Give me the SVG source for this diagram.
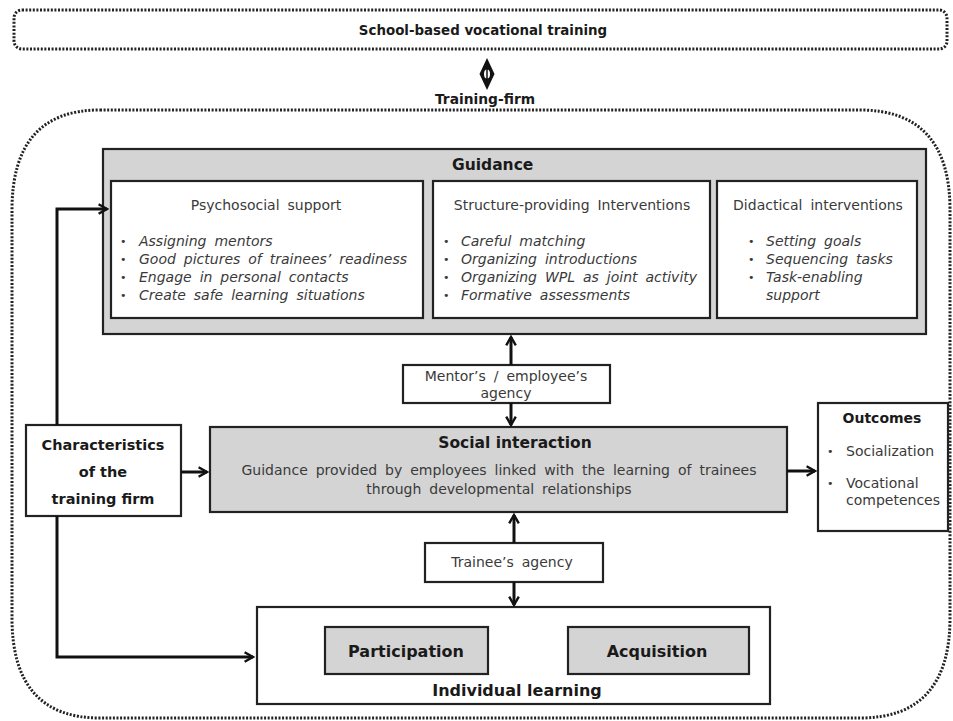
<svg xmlns="http://www.w3.org/2000/svg" width="953" height="721" viewBox="0 0 953 721">
<style>
.dot{fill:none;stroke:#222;stroke-width:3;stroke-dasharray:2 1.6}
.box{fill:#fff;stroke:#222;stroke-width:2.2}
.gray{fill:#d4d4d4;stroke:#222;stroke-width:2.2}
.h{font-family:"DejaVu Sans",Verdana,sans-serif;font-weight:bold;fill:#1a1a1a}
.t{font-family:"DejaVu Sans",Verdana,sans-serif;font-size:14px;word-spacing:3.5px;fill:#3a3a3a}
.i{font-family:"DejaVu Sans",Verdana,sans-serif;font-size:14px;word-spacing:3.5px;font-style:italic;fill:#3a3a3a}
.b{font-family:"DejaVu Sans",Verdana,sans-serif;font-size:11px;fill:#3a3a3a}
.ln{fill:none;stroke:#111;stroke-width:3}
</style>
<defs>
<marker id="ah" viewBox="0 0 10 10" refX="8" refY="5" markerWidth="4" markerHeight="4" orient="auto" markerUnits="strokeWidth">
<path d="M1,1 L8,5 L1,9" fill="none" stroke="#111" stroke-width="2"/>
</marker>
</defs>
<rect width="953" height="721" fill="#fff"/>

<g id="school">
<rect class="dot" x="14" y="10" width="933" height="39" rx="8"/>
<text class="h" x="483" y="35" font-size="13.4" text-anchor="middle">School-based vocational training</text>
</g>

<g id="link-diamond">
<path d="M487,58 L494.5,74 L487,90 L479.5,74 Z" fill="#111"/>
<ellipse cx="487" cy="74" rx="3" ry="4.5" fill="#fff"/>
<line x1="487" y1="68" x2="487" y2="80" stroke="#111" stroke-width="1.5"/>
</g>

<g id="training-firm">
<path class="dot" d="M100,110 H860 Q950,110 950,210 V618 Q950,718 860,718 H100 Q12,718 12,618 V210 Q12,110 100,110 Z"/>
<text class="h" x="485" y="104" font-size="13.8" text-anchor="middle">Training-firm</text>
</g>

<g id="guidance">
<rect class="gray" x="103" y="149" width="823" height="185"/>
<text class="h" x="452" y="170" font-size="15.5">Guidance</text>
</g>

<g id="psychosocial">
<rect class="box" x="111" y="181" width="312" height="137"/>
<text class="t" x="266" y="210" text-anchor="middle">Psychosocial support</text>
<text class="b" x="120" y="245">•</text><text class="i" x="139" y="246">Assigning mentors</text>
<text class="b" x="120" y="263">•</text><text class="i" x="139" y="264">Good pictures of trainees’ readiness</text>
<text class="b" x="120" y="281">•</text><text class="i" x="139" y="282">Engage in personal contacts</text>
<text class="b" x="120" y="299">•</text><text class="i" x="139" y="300">Create safe learning situations</text>
</g>

<g id="structure">
<rect class="box" x="433" y="181" width="277" height="137"/>
<text class="t" x="572" y="210" text-anchor="middle">Structure-providing Interventions</text>
<text class="b" x="443" y="245">•</text><text class="i" x="461" y="246">Careful matching</text>
<text class="b" x="443" y="263">•</text><text class="i" x="461" y="264">Organizing introductions</text>
<text class="b" x="443" y="281">•</text><text class="i" x="461" y="282">Organizing WPL as joint activity</text>
<text class="b" x="443" y="299">•</text><text class="i" x="461" y="300">Formative assessments</text>
</g>

<g id="didactical">
<rect class="box" x="717" y="181" width="200" height="137"/>
<text class="t" x="818" y="210" text-anchor="middle">Didactical interventions</text>
<text class="b" x="748" y="245">•</text><text class="i" x="766" y="246">Setting goals</text>
<text class="b" x="748" y="263">•</text><text class="i" x="766" y="264">Sequencing tasks</text>
<text class="b" x="748" y="281">•</text><text class="i" x="766" y="282">Task-enabling</text>
<text class="i" x="766" y="300">support</text>
</g>

<g id="mentor-agency">
<rect class="box" x="403" y="365" width="207" height="38"/>
<text class="t" x="506" y="381" text-anchor="middle">Mentor’s / employee’s</text>
<text class="t" x="506" y="398" text-anchor="middle">agency</text>
</g>

<g id="characteristics">
<rect class="box" x="26" y="425" width="155" height="91"/>
<text class="h" x="103" y="450" font-size="14.5" text-anchor="middle">Characteristics</text>
<text class="h" x="103" y="477" font-size="14.5" text-anchor="middle">of the</text>
<text class="h" x="103" y="504" font-size="14.5" text-anchor="middle">training firm</text>
</g>

<g id="social-interaction">
<rect class="gray" x="210" y="427" width="577" height="85"/>
<text class="h" x="515" y="448" font-size="15.5" text-anchor="middle">Social interaction</text>
<text class="t" x="499" y="475" text-anchor="middle">Guidance provided by employees linked with the learning of trainees</text>
<text class="t" x="499" y="494" text-anchor="middle">through developmental relationships</text>
</g>

<g id="outcomes">
<rect class="box" x="818" y="403" width="130" height="128"/>
<text class="h" x="882" y="423" font-size="14" text-anchor="middle">Outcomes</text>
<text class="b" x="827" y="455">•</text><text class="t" x="846" y="456" font-size="13.5">Socialization</text>
<text class="b" x="827" y="487">•</text><text class="t" x="846" y="488" font-size="13.5">Vocational</text>
<text class="t" x="846" y="505" font-size="13">competences</text>
</g>

<g id="trainee-agency">
<rect class="box" x="425" y="543" width="178" height="39"/>
<text class="t" x="512" y="567" text-anchor="middle">Trainee’s agency</text>
</g>

<g id="individual-learning">
<rect class="box" x="257" y="607" width="513" height="97"/>
<text class="h" x="517" y="696" font-size="16" text-anchor="middle">Individual learning</text>
</g>

<g id="participation">
<rect class="gray" x="325" y="627" width="163" height="47"/>
<text class="h" x="406" y="657" font-size="16" text-anchor="middle">Participation</text>
</g>

<g id="acquisition">
<rect class="gray" x="568" y="627" width="181" height="47"/>
<text class="h" x="657" y="657" font-size="16" text-anchor="middle">Acquisition</text>
</g>

<g id="connectors">
<path class="ln" d="M57,425 V209 H107" marker-end="url(#ah)"/>
<path class="ln" d="M57,516 V657 H253" marker-end="url(#ah)"/>
<path class="ln" d="M181,472 H207" marker-end="url(#ah)"/>
<path class="ln" d="M511,365 V337" marker-end="url(#ah)"/>
<path class="ln" d="M511,403 V425" marker-end="url(#ah)"/>
<path class="ln" d="M787,471 H815" marker-end="url(#ah)"/>
<path class="ln" d="M514,543 V515" marker-end="url(#ah)"/>
<path class="ln" d="M514,582 V605" marker-end="url(#ah)"/>
</g>
</svg>
